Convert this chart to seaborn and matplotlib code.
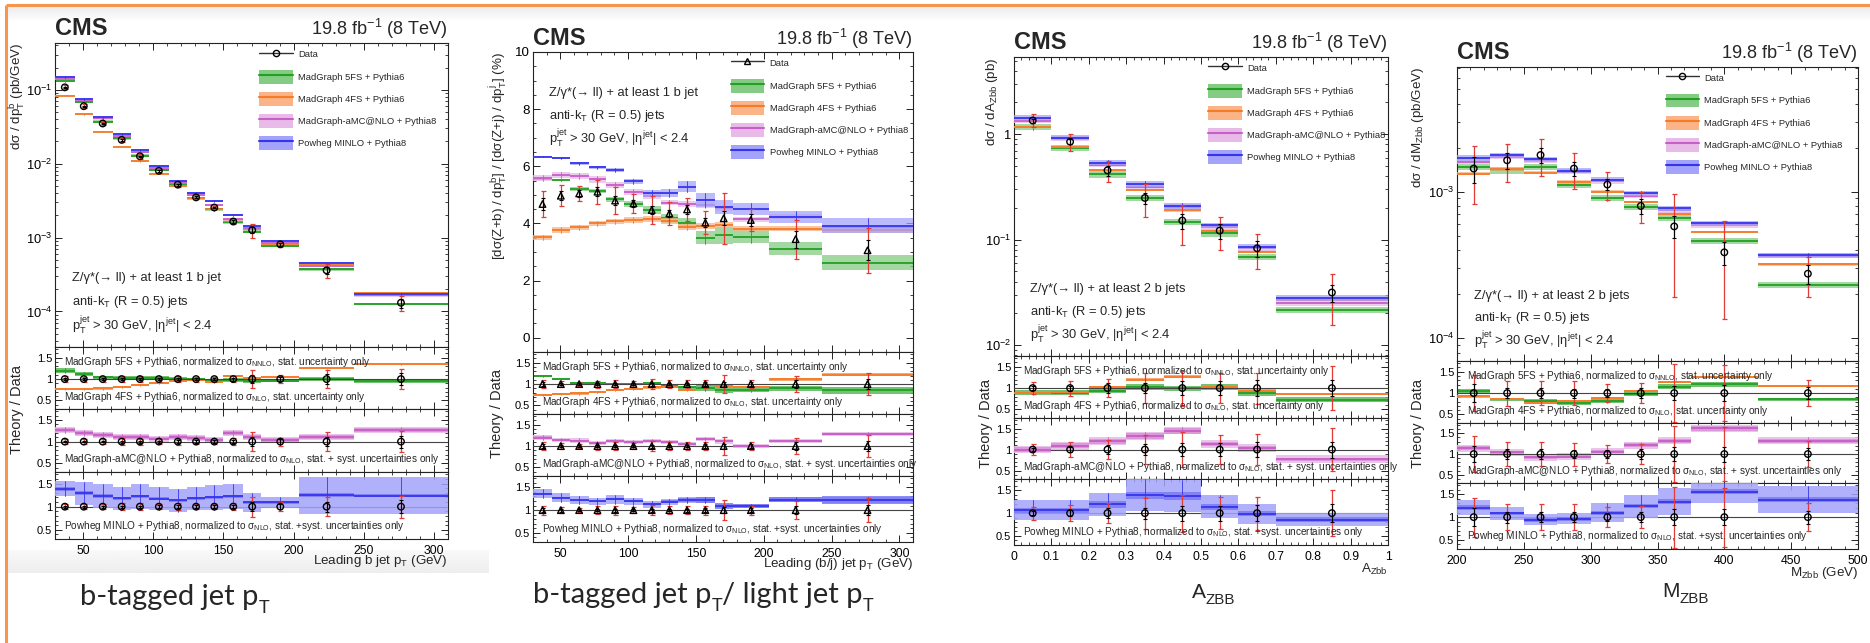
import numpy as np
import pandas as pd
import matplotlib
matplotlib.use("Agg")
import matplotlib.pyplot as plt
import seaborn as sns
from matplotlib.lines import Line2D
from matplotlib.patches import Patch
from matplotlib.ticker import MultipleLocator, NullFormatter, FixedLocator, FixedFormatter, LogLocator, FuncFormatter
from matplotlib import font_manager as fm

# ---------------------------------------------------------------- data
# Panel 1: leading b jet pT
p1_edges = [30, 44, 57, 71, 84, 97, 111, 124, 137, 150, 164, 177, 204, 243, 310]
p1_data = [0.108, 0.060, 0.035, 0.021, 0.0126, 0.0080, 0.0052, 0.0035, 0.00255, 0.00165, 0.00126, 0.00081, 0.00036, 0.000131]
p1_err = [0.0065, 0.0036, 0.0021, 0.0015, 0.00088, 0.00048, 0.00036, 0.00021, 0.00015, 0.00012, 0.00027, 0.000073, 0.000076, 0.000031]
p1_stat = [0.002, 0.0012, 0.0007, 0.0005, 0.0003, 0.0002, 0.00015, 0.0001, 0.00007, 0.00006, 0.00012, 0.00004, 0.00004, 0.000018]
p1_green = [0.132, 0.068, 0.037, 0.022, 0.0129, 0.0082, 0.0053, 0.0034, 0.0024, 0.0016, 0.0012, 0.00077, 0.00037, 0.000127]
p1_orange = [0.083, 0.047, 0.027, 0.017, 0.0109, 0.0073, 0.0050, 0.0034, 0.0024, 0.0017, 0.00132, 0.00083, 0.00044, 0.000178]
p1_pink = [0.140, 0.073, 0.041, 0.0238, 0.0144, 0.0088, 0.0055, 0.0038, 0.00275, 0.00177, 0.00135, 0.00085, 0.00041, 0.000165]
p1_blue = [0.148, 0.076, 0.043, 0.025, 0.0153, 0.0094, 0.0059, 0.0040, 0.0031, 0.0020, 0.00143, 0.00090, 0.00045, 0.000170]
p1_r_green = [1.20, 1.12, 1.04, 1.02, 1.02, 1.02, 1.01, 0.99, 0.95, 0.98, 0.95, 0.96, 1.00, 0.95]
p1_r_orange = [0.76, 0.76, 0.78, 0.81, 0.87, 0.90, 0.95, 0.98, 0.93, 1.07, 1.02, 1.04, 1.26, 1.35]
p1_r_pink = [1.27, 1.19, 1.16, 1.10, 1.10, 1.07, 1.10, 1.08, 1.03, 1.19, 1.10, 1.03, 1.11, 1.27]
p1_r_blue = [1.39, 1.29, 1.23, 1.18, 1.22, 1.17, 1.14, 1.18, 1.20, 1.22, 1.09, 1.09, 1.25, 1.24]
p1_r_blue_syst = [0.17, 0.25, 0.25, 0.25, 0.28, 0.25, 0.25, 0.25, 0.27, 0.28, 0.2, 0.12, 0.4, 0.4]

# Panel 2: ratio Z+b / Z+j vs leading jet pT
p2_edges = p1_edges
p2_data = [4.68, 4.97, 5.05, 5.11, 4.80, 4.70, 4.47, 4.35, 4.49, 4.03, 4.18, 4.12, 3.45, 3.06]
p2_err = [0.47, 0.36, 0.26, 0.42, 0.46, 0.33, 0.48, 0.39, 0.39, 0.40, 0.90, 0.40, 0.68, 0.79]
p2_stat = [0.20, 0.15, 0.12, 0.15, 0.15, 0.12, 0.15, 0.12, 0.15, 0.15, 0.25, 0.20, 0.30, 0.35]
p2_green = [5.54, 5.52, 5.19, 5.13, 4.84, 4.68, 4.47, 4.18, 4.03, 3.50, 3.59, 3.53, 3.12, 2.63]
p2_green_unc = [0.03, 0.04, 0.07, 0.08, 0.10, 0.10, 0.13, 0.16, 0.16, 0.22, 0.30, 0.23, 0.22, 0.25]
p2_orange = [3.51, 3.77, 3.86, 4.00, 4.07, 4.12, 4.14, 4.08, 3.88, 3.92, 3.94, 3.82, 3.82, 3.77]
p2_pink = [5.60, 5.70, 5.66, 5.54, 5.35, 5.09, 4.96, 4.73, 4.68, 4.64, 4.53, 4.15, 4.23, 3.88]
p2_blue = [6.34, 6.29, 6.10, 5.96, 5.87, 5.47, 5.05, 5.08, 5.29, 4.82, 4.58, 4.50, 4.23, 3.92]
p2_blue_unc = [0.03, 0.04, 0.05, 0.06, 0.08, 0.10, 0.12, 0.14, 0.18, 0.23, 0.25, 0.20, 0.20, 0.26]
p2_r_green = [1.19, 1.11, 1.03, 1.02, 1.01, 1.01, 1.02, 0.97, 0.92, 0.90, 0.86, 0.86, 0.90, 0.86]
p2_r_orange = [0.75, 0.77, 0.78, 0.82, 0.86, 0.88, 0.92, 0.94, 0.87, 0.98, 0.95, 0.94, 1.11, 1.22]
p2_r_pink = [1.20, 1.15, 1.13, 1.08, 1.12, 1.09, 1.12, 1.09, 1.04, 1.17, 1.11, 1.00, 1.12, 1.29]
p2_r_blue = [1.36, 1.27, 1.22, 1.19, 1.24, 1.19, 1.13, 1.18, 1.22, 1.22, 1.09, 1.09, 1.23, 1.22]
p2_r_blue_syst = [0.10, 0.10, 0.08, 0.08, 0.10, 0.08, 0.08, 0.07, 0.07, 0.07, 0.05, 0.04, 0.05, 0.06]

# Panel 3: A_Zbb
p3_edges = [0, 0.1, 0.2, 0.3, 0.4, 0.5, 0.6, 0.7, 1.0]
p3_data = [1.35, 0.85, 0.455, 0.249, 0.152, 0.122, 0.083, 0.0316]
p3_err = [0.19, 0.15, 0.10, 0.085, 0.062, 0.042, 0.030, 0.016]
p3_stat = [0.06, 0.05, 0.05, 0.03, 0.025, 0.02, 0.015, 0.006]
p3_green = [1.17, 0.747, 0.417, 0.249, 0.148, 0.115, 0.069, 0.0216]
p3_orange = [1.17, 0.764, 0.455, 0.296, 0.190, 0.122, 0.077, 0.027]
p3_pink = [1.34, 0.916, 0.510, 0.318, 0.206, 0.131, 0.083, 0.025]
p3_blue = [1.44, 0.930, 0.538, 0.338, 0.210, 0.137, 0.086, 0.028]
p3_r_green = [0.89, 0.89, 0.94, 1.03, 0.99, 1.02, 0.88, 0.73]
p3_r_orange = [0.89, 0.90, 1.02, 1.20, 1.27, 1.02, 0.94, 0.86]
p3_r_pink = [1.00, 1.09, 1.20, 1.32, 1.45, 1.13, 1.04, 0.77]
p3_r_blue = [1.06, 1.06, 1.19, 1.39, 1.38, 1.14, 0.99, 0.86]
p3_r_blue_syst = [0.22, 0.22, 0.25, 0.35, 0.35, 0.25, 0.22, 0.15]

# Panel 4: M_Zbb
p4_edges = [200, 225, 250, 275, 300, 325, 350, 375, 425, 500]
p4_data = [1.44e-3, 1.64e-3, 1.78e-3, 1.44e-3, 1.12e-3, 0.80e-3, 0.58e-3, 0.386e-3, 0.276e-3]
p4_err = [0.62e-3, 0.48e-3, 0.50e-3, 0.40e-3, 0.24e-3, 0.19e-3, 0.39e-3, 0.25e-3, 0.085e-3]
p4_stat = [0.29e-3, 0.20e-3, 0.20e-3, 0.15e-3, 0.10e-3, 0.09e-3, 0.10e-3, 0.07e-3, 0.04e-3]
p4_green = [1.48e-3, 1.40e-3, 1.48e-3, 1.12e-3, 0.91e-3, 0.79e-3, 0.66e-3, 0.46e-3, 0.231e-3]
p4_orange = [1.33e-3, 1.42e-3, 1.35e-3, 1.17e-3, 1.00e-3, 0.85e-3, 0.71e-3, 0.53e-3, 0.32e-3]
p4_pink = [1.60e-3, 1.73e-3, 1.64e-3, 1.37e-3, 1.18e-3, 0.94e-3, 0.75e-3, 0.59e-3, 0.365e-3]
p4_blue = [1.70e-3, 1.78e-3, 1.67e-3, 1.39e-3, 1.21e-3, 0.98e-3, 0.77e-3, 0.61e-3, 0.37e-3]
p4_r_green = [1.04, 0.85, 0.81, 0.77, 0.82, 0.98, 1.15, 1.21, 0.85]
p4_r_orange = [0.92, 0.87, 0.77, 0.81, 0.89, 1.05, 1.26, 1.37, 1.17]
p4_r_pink = [1.14, 1.04, 0.92, 0.94, 1.06, 1.21, 1.32, 1.62, 1.32]
p4_r_blue = [1.21, 1.08, 0.94, 0.96, 1.10, 1.24, 1.34, 1.56, 1.38]
p4_r_blue_syst = [0.17, 0.15, 0.12, 0.12, 0.20, 0.25, 0.30, 0.25, 0.30]

model_labels = ["MadGraph 5FS + Pythia6", "MadGraph 4FS + Pythia6",
                "MadGraph-aMC@NLO + Pythia8", "Powheg MINLO + Pythia8"]
captions = ["b-tagged jet p", "A", "M"]

# ---------------------------------------------------------------- style
sns.set_theme(style="ticks")
_names = {f.name for f in fm.fontManager.ttflist}
NF = "Liberation Sans Narrow" if "Liberation Sans Narrow" in _names else "Liberation Sans"
K = 1.0 if NF == "Liberation Sans Narrow" else 0.84
plt.rcParams["font.family"] = [NF, "DejaVu Sans"]
plt.rcParams["mathtext.fontset"] = "custom"
plt.rcParams["mathtext.rm"] = NF
plt.rcParams["mathtext.it"] = NF + ":italic"
plt.rcParams["mathtext.bf"] = NF + ":bold"
plt.rcParams["mathtext.default"] = "regular"
plt.rcParams["axes.linewidth"] = 0.8
plt.rcParams["axes.edgecolor"] = "#222222"

COL = {
    "green": dict(fill="#84cc84", inner="#5cb85c", line="#22a022"),
    "orange": dict(fill="#fbb487", inner="#f89a5c", line="#f57b28"),
    "pink": dict(fill="#e8bae8", inner="#d893d8", line="#c85ec8"),
    "blue": dict(fill="#a3a3fb", inner="#7a7af6", line="#3535ee"),
}
KEYS = ["green", "orange", "pink", "blue"]
RED = "#e23a35"

W, H = 1870, 643
fig = plt.figure(figsize=(W / 100, H / 100), dpi=100)


def add_ax(L, T, R, B):
    return fig.add_axes([L / W, 1 - B / H, (R - L) / W, (B - T) / H])


def ftext(x, y, s, **kw):
    return fig.text(x / W, 1 - y / H, s, **kw)


# background decoration
bg = fig.add_axes([0, 0, 1, 1], zorder=-10)
bg.set_xlim(0, W)
bg.set_ylim(H, 0)
bg.axis("off")
grad = np.linspace(0.92, 1.0, 40)[:, None]
bg.imshow(np.repeat(grad, 2, axis=1), cmap="gray", vmin=0, vmax=1,
          extent=(6, W, 22, 6), aspect="auto", zorder=0)
grad2 = np.linspace(0.975, 0.93, 30)[:, None]
bg.imshow(np.repeat(grad2, 2, axis=1), cmap="gray", vmin=0, vmax=1,
          extent=(8, 489, 573, 550), aspect="auto", zorder=0)
bg.plot([6, W], [5, 5], color="#f7964a", lw=2.2, solid_capstyle="butt")
bg.plot([6, 6], [5, H], color="#f7964a", lw=2.2, solid_capstyle="butt")


def band(ax, edges, vals, half, key, z, outer=None, alpha=0.8, inner_col=None):
    c = COL[key]
    for i in range(len(vals)):
        lo, hi, v = edges[i], edges[i + 1], vals[i]
        if outer is not None:
            ax.fill_between([lo, hi], v - outer[i], v + outer[i], color=c["fill"], lw=0, alpha=alpha, zorder=z)
        ax.fill_between([lo, hi], v - half[i], v + half[i], color=inner_col or c["fill"], lw=0,
                        alpha=alpha, zorder=z + 0.1)
        ax.plot([lo, hi], [v, v], color=c["line"], lw=1.3, zorder=z + 0.2, solid_capstyle="butt")
        cx = 0.5 * (lo + hi)
        hh = outer[i] if outer is not None else half[i]
        ax.plot([cx, cx], [v - hh, v + hh], color=c["line"], lw=0.6, zorder=z + 0.2)


def data_points(ax, cen, y, err, stat, marker):
    ax.errorbar(cen, y, yerr=err, fmt="none", ecolor=RED, elinewidth=0.9, capsize=1.8, capthick=0.9, zorder=7)
    ax.errorbar(cen, y, yerr=stat, fmt="none", ecolor="black", elinewidth=0.8, capsize=1.4, capthick=0.8, zorder=8)
    df = pd.DataFrame({"x": cen, "y": y})
    sns.scatterplot(data=df, x="x", y="y", ax=ax, marker=marker, s=22, facecolor="none",
                    edgecolor="black", linewidth=1.0, zorder=9, legend=False)
    ax.set_xlabel("")
    ax.set_ylabel("")


def style_ax(ax, xmaj, xmin, labelx=False, fmt=None, ysize=8):
    ax.xaxis.set_major_locator(MultipleLocator(xmaj))
    ax.xaxis.set_minor_locator(MultipleLocator(xmin))
    ax.tick_params(which="both", direction="in", top=True, right=True, colors="#222222",
                   labelcolor="black", pad=2)
    ax.tick_params(axis="y", labelsize=ysize * K)
    ax.tick_params(axis="x", labelsize=10.5 * K, pad=4)
    ax.tick_params(which="major", length=5, width=0.7)
    ax.tick_params(which="minor", length=2.5, width=0.6)
    if not labelx:
        ax.tick_params(axis="x", labelbottom=False)
    elif fmt is not None:
        ax.xaxis.set_major_formatter(fmt)


def ratio_style(ax):
    ax.set_ylim(0.3, 1.75)
    ax.yaxis.set_major_locator(FixedLocator([0.5, 1.0, 1.5]))
    ax.yaxis.set_major_formatter(FixedFormatter(["0.5", "1", "1.5"]))
    ax.yaxis.set_minor_locator(MultipleLocator(0.1))


PANELS = [
    dict(box=(55, 43, 448, [347, 409, 472, 539]), edges=p1_edges, data=p1_data, err=p1_err, stat=p1_stat,
         models=[p1_green, p1_orange, p1_pink, p1_blue], rel=[0.04, 0.02, 0.04, 0.03],
         ratios=[p1_r_green, p1_r_orange, p1_r_pink, p1_r_blue], bsyst=p1_r_blue_syst, psyst=0.07,
         log=True, ylim=(3.3e-5, 0.43), marker="o", xlim=(30, 310), xt=(50, 10),
         cms=35, ylab=r"d$\sigma$ / dp$_{T}^{b}$ (pb/GeV)", ylx=18, tdx=17, tdy=410,
         xlabel=r"Leading b jet p$_{T}$ (GeV)", xly=561,
         info=(0.043, [0.227, 0.148, 0.072]), nb="1 b jet"),
    dict(box=(533, 52, 913, [352, 414, 476, 542]), edges=p2_edges, data=p2_data, err=p2_err, stat=p2_stat,
         models=[p2_green, p2_orange, p2_pink, p2_blue], rel=[None, 0.025, 0.02, None],
         absunc={0: p2_green_unc, 3: p2_blue_unc},
         ratios=[p2_r_green, p2_r_orange, p2_r_pink, p2_r_blue], bsyst=p2_r_blue_syst, psyst=0.05,
         log=False, ylim=(-0.5, 10), marker="^", xlim=(30, 310), xt=(50, 10),
         cms=45, ylab=r"[d$\sigma$(Z+b) / dp$_{T}^{b}$] / [d$\sigma$(Z+j) / dp$_{T}^{j}$] (%)", ylx=498,
         tdx=497, tdy=413, xlabel=r"Leading (b/j) jet p$_{T}$ (GeV)", xly=564,
         info=(0.042, [0.863, 0.787, 0.713]), nb="1 b jet"),
    dict(box=(1014, 57, 1388, [356, 418, 479, 545]), edges=p3_edges, data=p3_data, err=p3_err, stat=p3_stat,
         models=[p3_green, p3_orange, p3_pink, p3_blue], rel=[0.07, 0.03, 0.05, 0.06],
         ratios=[p3_r_green, p3_r_orange, p3_r_pink, p3_r_blue], bsyst=p3_r_blue_syst, psyst=0.09,
         log=True, ylim=(0.0079, 5.4), marker="o", xlim=(0, 1), xt=(0.1, 0.02),
         cms=49, ylab=r"d$\sigma$ / dA$_{Zbb}$ (pb)", ylx=992, tdx=986, tdy=423,
         xlabel=r"A$_{Zbb}$", xly=569,
         info=(0.043, [0.224, 0.147, 0.074]), nb="2 b jets"),
    dict(box=(1457, 67, 1858, [361, 423, 483, 549]), edges=p4_edges, data=p4_data, err=p4_err, stat=p4_stat,
         models=[p4_green, p4_orange, p4_pink, p4_blue], rel=[0.05, 0.02, 0.04, 0.04],
         ratios=[p4_r_green, p4_r_orange, p4_r_pink, p4_r_blue], bsyst=p4_r_blue_syst, psyst=0.08,
         log=True, ylim=(7e-5, 0.0071), marker="o", xlim=(200, 500), xt=(50, 10),
         cms=59, ylab=r"d$\sigma$ / dM$_{Zbb}$ (pb/GeV)", ylx=1418, tdx=1418, tdy=423,
         xlabel=r"M$_{Zbb}$ (GeV)", xly=573,
         info=(0.042, [0.221, 0.146, 0.071]), nb="2 b jets"),
]

gfmt = FuncFormatter(lambda v, p: "%g" % round(v, 6))

for P in PANELS:
    L, T, R, Bs = P["box"]
    edges = np.asarray(P["edges"], float)
    cen = 0.5 * (edges[:-1] + edges[1:])
    data = np.asarray(P["data"])
    err = np.asarray(P["err"])
    stat = np.asarray(P["stat"])

    # ---------------- main axes
    ax = add_ax(L, T, R, Bs[0])
    ax.set_xlim(*P["xlim"])
    if P["log"]:
        ax.set_yscale("log")
    rels = []
    for k, key in enumerate(KEYS):
        vals = np.asarray(P["models"][k])
        if P["rel"][k] is None:
            half = np.asarray(P["absunc"][k])
        else:
            half = P["rel"][k] * vals
        rels.append(half / vals)
        band(ax, edges, vals, half, key, z=2 + k, alpha=0.75)
    data_points(ax, cen, data, err, stat, P["marker"])
    ax.set_ylim(*P["ylim"])
    style_ax(ax, *P["xt"], ysize=11)
    if P["log"]:
        ax.yaxis.set_major_locator(LogLocator(base=10, numticks=10))
        ax.yaxis.set_minor_locator(LogLocator(base=10, subs=np.arange(2, 10), numticks=20))
        ax.yaxis.set_minor_formatter(NullFormatter())
        if P["ylim"][1] > 1:
            ax.yaxis.set_major_locator(FixedLocator([0.01, 0.1, 1]))
            ax.yaxis.set_major_formatter(FixedFormatter([r"$10^{-2}$", r"$10^{-1}$", "1"]))
    else:
        ax.yaxis.set_major_locator(MultipleLocator(2))
        ax.yaxis.set_minor_locator(MultipleLocator(0.5))
        ax.tick_params(axis="y", labelsize=11.5 * K)

    # legend
    handles = [Line2D([], [], color="#333333", lw=1, marker=P["marker"], mfc="none", mec="black", ms=4.5, mew=1)]
    for key in KEYS:
        handles.append((Patch(fc=COL[key]["fill"], ec="none"), Line2D([], [], color=COL[key]["line"], lw=1.5)))
    ax.legend(handles, ["Data"] + model_labels, loc="upper left", bbox_to_anchor=(0.52, 0.985),
              frameon=False, fontsize=8 * K, handlelength=3.0 / K, handleheight=1.6 / K,
              labelspacing=0.75 / K, handletextpad=0.6, borderpad=0, borderaxespad=0)

    # info text
    ix, iys = P["info"]
    infos = ["Z/γ*(→ ll) + at least " + P["nb"],
             r"anti-k$_{T}$ (R = 0.5) jets",
             r"p$_{T}^{jet}$ > 30 GeV, |$\eta^{jet}$| < 2.4"]
    for s, yy in zip(infos, iys):
        ax.text(ix, yy, s, transform=ax.transAxes, fontsize=11 * K, ha="left", va="center")

    # CMS + lumi
    ftext(L, P["cms"], "CMS", family=["Liberation Sans", "DejaVu Sans"], weight="bold", fontsize=17,
          ha="left", va="baseline")
    ftext(R, P["cms"], r"19.8 fb$^{-1}$ (8 TeV)", fontsize=15.5 * K, ha="right", va="baseline")
    ftext(P["ylx"], T, P["ylab"], rotation=90, fontsize=11.5 * K, ha="center", va="top")

    # ---------------- ratio axes
    rtexts = [(r"MadGraph 5FS + Pythia6, normalized to $\sigma_{NNLO}$, stat. uncertainty only", 0.76),
              (r"MadGraph 4FS + Pythia6, normalized to $\sigma_{NLO}$, stat. uncertainty only", 0.19),
              (r"MadGraph-aMC@NLO + Pythia8, normalized to $\sigma_{NLO}$, stat. + syst. uncertainties only", 0.2),
              (r"Powheg MINLO + Pythia8, normalized to $\sigma_{NLO}$, stat. +syst. uncertainties only", 0.2)]
    groups = [[0, 1], [2], [3]]
    for gi, grp in enumerate(groups):
        rax = add_ax(L, Bs[gi], R, Bs[gi + 1])
        rax.set_xlim(*P["xlim"])
        for k in grp:
            key = KEYS[k]
            rv = np.asarray(P["ratios"][k])
            inner = rv * rels[k]
            if key == "pink":
                outer = np.full(len(rv), P["psyst"])
                band(rax, edges, rv, inner, key, z=2 + k, outer=outer, alpha=0.85, inner_col=COL[key]["inner"])
            elif key == "blue":
                outer = np.asarray(P["bsyst"])
                band(rax, edges, rv, inner, key, z=2 + k, outer=outer, alpha=0.85, inner_col=COL[key]["inner"])
            else:
                band(rax, edges, rv, np.maximum(inner, 0.025), key, z=2 + k, alpha=0.85, inner_col=COL[key]["inner"])
        rax.axhline(1.0, color="#444444", lw=0.8, zorder=4)
        data_points(rax, cen, np.ones_like(cen), err / data, stat / data, P["marker"])
        ratio_style(rax)
        last = gi == 2
        style_ax(rax, *P["xt"], labelx=last, fmt=gfmt, ysize=9.5)
        rax.set_ylim(0.3, 1.75)
        if gi == 0:
            for s, yy in rtexts[:2]:
                rax.text(0.024, yy, s, transform=rax.transAxes, fontsize=8.6 * K, ha="left", va="center", zorder=10)
        else:
            s, yy = rtexts[gi + 1]
            rax.text(0.024, yy, s, transform=rax.transAxes, fontsize=8.6 * K, ha="left", va="center", zorder=10)
    ftext(P["tdx"], P["tdy"], "Theory / Data", rotation=90, fontsize=12.5 * K, ha="center", va="center")
    ftext(R, P["xly"], P["xlabel"], fontsize=11.5 * K, ha="right", va="center")

# ---------------------------------------------------------------- captions
renderer = fig.canvas.get_renderer()


def caption(x, y, parts, family, size, subscale, subdrop):
    cx = x
    for txt, sub in parts:
        fs = size * subscale if sub else size
        yy = y + (subdrop if sub else 0)
        t = ftext(cx, yy, txt, family=family, fontsize=fs, ha="left", va="baseline")
        bb = t.get_window_extent(renderer=renderer)
        cx = cx + bb.width


CAP = ["Lato", "Open Sans", "DejaVu Sans"]
caption(80, 605, [(captions[0], False), ("T", True)], CAP, 21, 0.62, 8)
caption(533, 603, [(captions[0], False), ("T", True), ("/ light jet p", False), ("T", True)], CAP, 21, 0.62, 8)
caption(1192, 598, [(captions[1], False), ("ZBB", True)], [NF, "DejaVu Sans"], 18 * K, 0.72, 6)
caption(1662, 597, [(captions[2], False), ("ZBB", True)], [NF, "DejaVu Sans"], 18 * K, 0.72, 6)

fig.savefig("out.png", dpi=100)
